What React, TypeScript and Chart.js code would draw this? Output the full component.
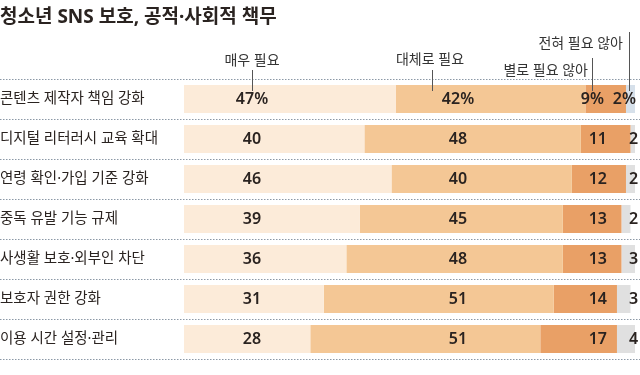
import React, { useEffect, useRef } from "react";
import { Chart, registerables } from "chart.js";

Chart.register(...registerables);

const title = "청소년 SNS 보호, 공적·사회적 책무";
const categories = [
  "콘텐츠 제작자 책임 강화",
  "디지털 리터러시 교육 확대",
  "연령 확인·가입 기준 강화",
  "중독 유발 기능 규제",
  "사생활 보호·외부인 차단",
  "보호자 권한 강화",
  "이용 시간 설정·관리",
];
const seriesNames = ["매우 필요", "대체로 필요", "별로 필요 않아", "전혀 필요 않아"];
const veryNeeded = [47, 40, 46, 39, 36, 31, 28];
const mostlyNeeded = [42, 48, 40, 45, 48, 51, 51];
const notReally = [9, 11, 12, 13, 13, 14, 17];
const notAtAll = [2, 2, 2, 2, 3, 3, 4];

const FONT = "'Noto Sans', 'Noto Sans CJK KR', sans-serif";
const TEXT = "#2a2320";

export default function App() {
  const ref = useRef<HTMLCanvasElement | null>(null);
  useEffect(() => {
    document.body.style.margin = "0";
    const canvas = ref.current!;
    const overlay = {
      id: "overlay",
      beforeDatasetsDraw(chart: any) {
        const ctx = chart.ctx;
        const y = chart.scales.y;
        ctx.save();
        ctx.strokeStyle = "#8b98a6";
        ctx.lineWidth = 1;
        ctx.setLineDash([1.5, 1.5]);
        for (let i = 0; i <= categories.length; i++) {
          const yy = Math.round(y.getPixelForValue(i - 0.5)) + 0.5;
          ctx.beginPath();
          ctx.moveTo(0, yy);
          ctx.lineTo(640, yy);
          ctx.stroke();
        }
        ctx.restore();
      },
      afterDatasetsDraw(chart: any) {
        const ctx = chart.ctx;
        const ys = chart.scales.y;
        ctx.save();
        ctx.fillStyle = TEXT;
        ctx.textBaseline = "middle";
        ctx.textAlign = "left";
        ctx.font = `bold 19px ${FONT}`;
        ctx.fillText(title, 0, 18);
        ctx.font = `14px ${FONT}`;
        ctx.fillStyle = "#333";
        ctx.textAlign = "center";
        ctx.fillText(seriesNames[0], 252, 61);
        ctx.fillText(seriesNames[1], 430, 60);
        ctx.textAlign = "right";
        ctx.fillText(seriesNames[2], 588, 71);
        ctx.fillText(seriesNames[3], 623, 44);
        ctx.strokeStyle = "#555";
        ctx.lineWidth = 1;
        const tick = (x: number, y0: number, y1: number) => {
          ctx.beginPath();
          ctx.moveTo(x + 0.5, y0);
          ctx.lineTo(x + 0.5, y1);
          ctx.stroke();
        };
        tick(252, 70, 91);
        tick(432, 70, 91);
        tick(592, 58, 91);
        tick(629, 32, 91);
        categories.forEach((c, i) => {
          const cy = ys.getPixelForValue(i);
          ctx.fillStyle = TEXT;
          ctx.textAlign = "left";
          ctx.font = `14.5px ${FONT}`;
          ctx.fillText(c, 0, cy);
          ctx.font = `600 16px ${FONT}`;
          const pct = i === 0 ? "%" : "";
          ctx.textAlign = "center";
          ctx.fillText(veryNeeded[i] + pct, 252, cy);
          ctx.fillText(mostlyNeeded[i] + pct, 458, cy);
          ctx.textAlign = "right";
          ctx.fillText(notReally[i] + pct, i === 0 ? 604 : 607, cy);
          if (i === 0) {
            ctx.textAlign = "right";
            ctx.fillText(notAtAll[i] + pct, 636, cy);
          } else {
            ctx.textAlign = "left";
            ctx.fillText(String(notAtAll[i]), 629, cy);
          }
        });
        ctx.restore();
      },
    };
    const chart = new Chart(canvas, {
      type: "bar",
      data: {
        labels: categories,
        datasets: [
          { label: seriesNames[0], data: veryNeeded, backgroundColor: "#fcebd9" },
          { label: seriesNames[1], data: mostlyNeeded, backgroundColor: "#f4c795" },
          { label: seriesNames[2], data: notReally, backgroundColor: "#e9a066" },
          {
            label: seriesNames[3],
            data: notAtAll,
            backgroundColor: categories.map((_, i) => (i === 0 ? "#d6e0ea" : "#e0e0e0")),
          },
        ],
      },
      options: {
        indexAxis: "y",
        responsive: false,
        animation: false,
        events: [],
        layout: { padding: { left: 184, right: 5, top: 79, bottom: 16 } },
        datasets: { bar: { barPercentage: 0.7, categoryPercentage: 1 } },
        scales: {
          x: { stacked: true, min: 0, max: 100, display: false },
          y: { stacked: true, display: false },
        },
        plugins: { legend: { display: false }, tooltip: { enabled: false }, title: { display: false } },
      },
      plugins: [overlay],
    });
    return () => chart.destroy();
  }, []);
  return <canvas ref={ref} width={640} height={375} style={{ display: "block" }} />;
}
